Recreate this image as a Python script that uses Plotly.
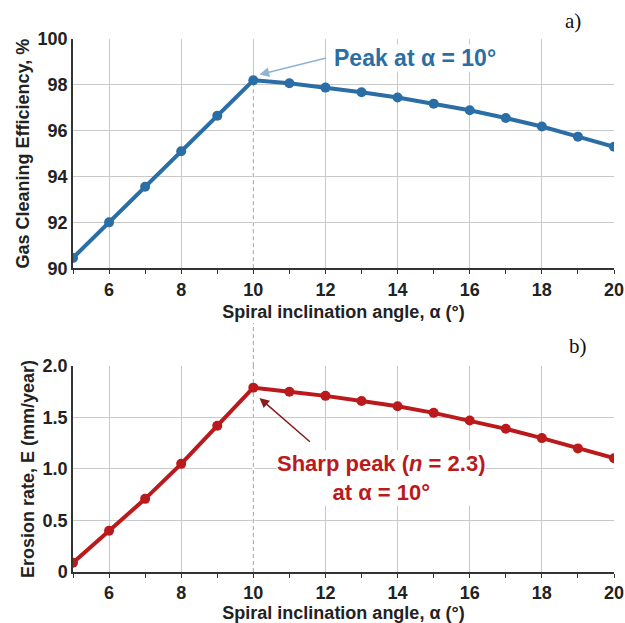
import plotly.graph_objects as go
from plotly.subplots import make_subplots

# ---- data ----
alpha = [5, 6, 7, 8, 9, 10, 11, 12, 13, 14, 15, 16, 17, 18, 19, 20]
efficiency = [90.45, 92.0, 93.55, 95.1, 96.65, 98.2, 98.07, 97.88, 97.68,
              97.45, 97.18, 96.89, 96.55, 96.18, 95.74, 95.3]
erosion = [0.09, 0.40, 0.71, 1.05, 1.42, 1.79, 1.75, 1.71, 1.66,
           1.61, 1.545, 1.47, 1.39, 1.30, 1.20, 1.105]
x_ticks = [6, 8, 10, 12, 14, 16, 18, 20]
eff_ticks = [90, 92, 94, 96, 98, 100]
ero_ticks = [0, 0.5, 1.0, 1.5, 2.0]
ero_ticktext = ["0", "0.5", "1.0", "1.5", "2.0"]
peak_alpha = 10
peak_eff = 98.2
peak_ero = 1.79

BLUE = "#2a6ea5"
RED = "#bb1a1c"
DASH = "#95a7ba"
FONT = "Liberation Sans, Arial, sans-serif"
GRID = "#c9c9c9"
AXIS = "#333333"
DASHSTYLE = "4px,3px"

top_dom = [0.570, 1.0]
bot_dom = [0.0, 0.3865]

fig = make_subplots(rows=2, cols=1)

# dashed guide at the peak angle (inside each panel), masking the grid line there
for (ylo, yhi, r) in [(90, peak_eff, 1), (0, 2, 2)]:
    fig.add_trace(go.Scatter(x=[peak_alpha, peak_alpha], y=[ylo, yhi], mode="lines",
                             line=dict(color="white", width=2),
                             hoverinfo="skip", showlegend=False), row=r, col=1)
    fig.add_trace(go.Scatter(x=[peak_alpha, peak_alpha], y=[ylo, yhi], mode="lines",
                             line=dict(color=DASH, width=1, dash=DASHSTYLE),
                             hoverinfo="skip", showlegend=False), row=r, col=1)

fig.add_trace(go.Scatter(x=alpha, y=efficiency, mode="lines+markers",
                         line=dict(color=BLUE, width=4),
                         marker=dict(color=BLUE, size=10),
                         showlegend=False), row=1, col=1)
fig.add_trace(go.Scatter(x=alpha, y=erosion, mode="lines+markers",
                         line=dict(color=RED, width=4),
                         marker=dict(color=RED, size=10),
                         showlegend=False), row=2, col=1)

xaxis_common = dict(range=[5, 20], tickvals=x_ticks, showgrid=True, gridcolor=GRID,
                    gridwidth=1, showline=True, linecolor=AXIS, linewidth=1.5,
                    ticks="outside", ticklen=4, tickcolor=AXIS,
                    minor=dict(dtick=1, ticks="outside", ticklen=4, tickcolor=AXIS,
                               showgrid=False),
                    tickfont=dict(family=FONT, size=18, color="#222", weight="bold"),
                    title=dict(text="Spiral inclination angle, α (°)", standoff=7,
                               font=dict(family=FONT, size=18, color="#222", weight="bold")),
                    zeroline=False, automargin=False)

fig.update_xaxes(**xaxis_common)
fig.update_yaxes(showgrid=True, gridcolor=GRID, gridwidth=1, showline=True,
                 linecolor=AXIS, linewidth=1.5, ticks="", zeroline=False,
                 tickfont=dict(family=FONT, size=18, color="#222", weight="bold"),
                 automargin=False)

fig.update_layout(
    width=625, height=623,
    margin=dict(l=73, r=11, t=39, b=51),
    plot_bgcolor="white", paper_bgcolor="white",
    xaxis=dict(domain=[0, 1]),
    yaxis=dict(domain=top_dom, range=[90, 100], tickvals=eff_ticks,
               title=dict(text="Gas Cleaning Efficiency, %", standoff=3,
                          font=dict(family=FONT, size=18, color="#222", weight="bold"))),
    xaxis2=dict(domain=[0, 1]),
    yaxis2=dict(domain=bot_dom, range=[0, 2], tickvals=ero_ticks, ticktext=ero_ticktext,
                title=dict(text="Erosion rate, E (mm/year)", standoff=3,
                           font=dict(family=FONT, size=18, color="#222", weight="bold"))),
)

# dashed guide across the gap between panels (below the top x-title)
plot_w = 625 - 73 - 11
plot_h = 623 - 39 - 51
fig.add_shape(type="line", xref="x", yref="paper", x0=peak_alpha, x1=peak_alpha,
              y0=bot_dom[1], y1=(623 - 51 - 323) / plot_h, layer="above",
              line=dict(color=DASH, width=1, dash=DASHSTYLE))

# annotations
fig.add_annotation(x=14.47, y=99.15, xref="x", yref="y", text="<b>Peak at α = 10°</b>",
                   showarrow=False, font=dict(family=FONT, size=23, color=BLUE),
                   bgcolor="white", borderpad=0)
fig.add_annotation(x=10.17, y=98.45, ax=12.06, ay=99.19, xref="x", yref="y",
                   axref="x", ayref="y", text="", showarrow=True, arrowhead=2,
                   arrowsize=1.3, arrowwidth=1.5, arrowcolor="#8fb3d3")

fig.add_annotation(x=13.55, y=0.913, xref="x2", yref="y2",
                   text="<b>Sharp peak (<i>n</i> = 2.3)<br>at α = 10°</b>",
                   showarrow=False, font=dict(family=FONT, size=22, color=RED),
                   bgcolor="white", borderpad=0)
fig.add_annotation(x=10.17, y=1.689, ax=11.61, ay=1.252, xref="x2", yref="y2",
                   axref="x2", ayref="y2", text="", showarrow=True, arrowhead=2,
                   arrowsize=1.3, arrowwidth=1.5, arrowcolor="#8b1c1c")

serif = dict(family="Liberation Serif, Times New Roman, serif", size=21, color="#111")
fig.add_annotation(x=(573 - 73) / plot_w, y=(623 - 51 - 21) / plot_h, xref="paper", yref="paper",
                   text="a)", showarrow=False, xanchor="center", yanchor="middle", font=serif)
fig.add_annotation(x=(578 - 73) / plot_w, y=(623 - 51 - 346) / plot_h, xref="paper", yref="paper",
                   text="b)", showarrow=False, xanchor="center", yanchor="middle", font=serif)

fig.write_html("out.html")
